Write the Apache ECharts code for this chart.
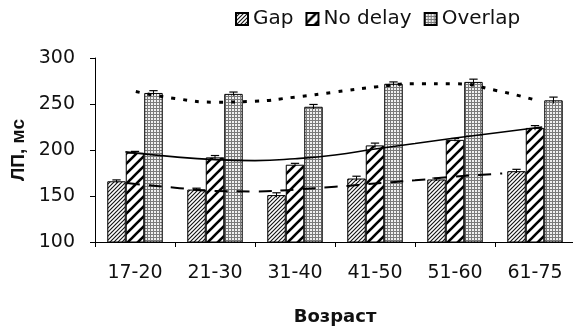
<!DOCTYPE html>
<html>
<head>
<meta charset="utf-8">
<script src="https://cdn.jsdelivr.net/npm/echarts@6/dist/echarts.min.js"></script>
<style>
html,body{margin:0;padding:0;background:#fff;}
#chart{width:573px;height:328px;}
</style>
</head>
<body>
<div id="chart"></div>
<script>
// ---- data ----
var categories = ['17-20', '21-30', '31-40', '41-50', '51-60', '61-75'];
var seriesNames = ['Gap', 'No delay', 'Overlap'];
var gapValues = [166, 157, 151, 169, 168, 177];
var noDelayValues = [197, 192, 184, 205, 211, 224];
var overlapValues = [262, 261, 247, 272, 274, 254];
var gapErr = [1.5, 1.5, 2.5, 2.5, 1.5, 2];
var noDelayErr = [1.5, 2, 1.5, 2.5, 1.5, 2.5];
var overlapErr = [2.5, 2, 2.5, 2, 3, 3.5];
var yTicks = [100, 150, 200, 250, 300];
// trend curves: [category position (1 = first category centre), value]
var trendGap = [[0.9,164],[1.5,159],[2,155.5],[2.5,155],[3,157],[3.5,160],[4,163.5],[4.5,167],[5,171],[5.59,174.5]];
var trendNoDelay = [[0.88,198],[1.5,192.5],[2,189.5],[2.5,188.5],[3,190.5],[3.5,194.5],[4,201],[4.5,207],[5,213],[5.5,218.5],[6.09,225]];
var trendOverlap = [[1.01,263.5],[1.5,256],[2,252],[2.5,253],[3,257.5],[3.5,263],[4,268.5],[4.5,272],[5,272],[5.5,265],[6.02,254]];

// ---- patterns ----
function hatch(size, lw, color, bg) {
  var c = document.createElement('canvas');
  c.width = size; c.height = size;
  var g = c.getContext('2d');
  g.fillStyle = bg; g.fillRect(0, 0, size, size);
  g.strokeStyle = color; g.lineWidth = lw; g.lineCap = 'square';
  for (var k = -1; k <= 1; k++) {
    g.beginPath();
    g.moveTo(k * size, size);
    g.lineTo(k * size + size, 0);
    g.stroke();
  }
  return c;
}
function stipple() {
  var c = document.createElement('canvas');
  c.width = 3; c.height = 3;
  var g = c.getContext('2d');
  g.fillStyle = '#f0f0f0'; g.fillRect(0, 0, 3, 3);
  g.fillStyle = '#7a7a7a';
  g.fillRect(0, 0, 3, 1);
  g.fillRect(0, 0, 1, 3);
  return c;
}
var patGap = { image: hatch(4, 1.1, '#111', '#fff'), repeat: 'repeat' };
var patNoDelay = { image: hatch(10, 2.6, '#000', '#fff'), repeat: 'repeat' };
var patOverlap = { image: stipple(), repeat: 'repeat' };

var BAR_FRAC = 0.231;
function errRenderer(offsetIdx) {
  return function (params, api) {
    var i = api.value(0), v = api.value(1), e = api.value(2);
    var catW = api.size([1, 0])[0];
    var bw = catW * BAR_FRAC;
    var c = api.coord([i, v]);
    var cx = c[0] + offsetIdx * bw;
    var top = api.coord([i, v + e])[1];
    var bot = api.coord([i, v - e])[1];
    var cap = bw * 0.45;
    return {
      type: 'group',
      children: [
        { type: 'line', shape: { x1: cx, y1: top, x2: cx, y2: bot }, style: { stroke: '#000', lineWidth: 1 } },
        { type: 'line', shape: { x1: cx - cap / 2, y1: top, x2: cx + cap / 2, y2: top }, style: { stroke: '#000', lineWidth: 1.2 } }
      ]
    };
  };
}
function errData(vals, errs) {
  return vals.map(function (v, i) { return [i, v, errs[i]]; });
}

var FONT = 'DejaVu Sans';
var chart = echarts.init(document.getElementById('chart'), null, { renderer: 'canvas' });
var barStyle = { borderColor: '#000', borderWidth: 1 };

chart.setOption({
  animation: false,
  backgroundColor: '#fff',
  legend: {
    data: seriesNames,
    left: 230,
    top: 4,
    icon: 'rect',
    itemWidth: 12,
    itemHeight: 12,
    itemGap: 12,
    textStyle: { fontFamily: FONT, fontSize: 20, color: '#111' }
  },
  grid: { left: 95, right: -2, top: 58, bottom: 86, containLabel: false, outerBoundsMode: 'none' },
  xAxis: [
    {
      type: 'category',
      data: categories,
      boundaryGap: true,
      axisLine: { show: true, lineStyle: { color: '#000', width: 1 } },
      axisTick: { show: true, inside: false, length: 5, lineStyle: { color: '#000' } },
      axisLabel: { fontFamily: FONT, fontSize: 19, color: '#111', margin: 22 },
      name: 'Возраст',
      nameLocation: 'middle',
      nameGap: 66,
      nameTextStyle: { fontFamily: FONT, fontSize: 18, fontWeight: 'bold', color: '#111' }
    },
    { type: 'value', min: 0.5, max: 6.5, show: false }
  ],
  yAxis: {
    type: 'value',
    min: yTicks[0],
    max: yTicks[yTicks.length - 1],
    interval: yTicks[1] - yTicks[0],
    axisLine: { show: true, lineStyle: { color: '#000', width: 1 } },
    axisTick: { show: true, length: 5, lineStyle: { color: '#000' } },
    splitLine: { show: false },
    axisLabel: { fontFamily: FONT, fontSize: 19, color: '#111', margin: 20 },
    name: 'ЛП, мс',
    nameLocation: 'middle',
    nameRotate: 90,
    nameGap: 62,
    nameTextStyle: { fontFamily: 'Liberation Sans', fontSize: 19, fontWeight: 'bold', color: '#111' }
  },
  series: [
    { name: seriesNames[0], type: 'bar', data: gapValues, barWidth: (BAR_FRAC * 100) + '%', barGap: '0%', itemStyle: Object.assign({ color: patGap }, barStyle) },
    { name: seriesNames[1], type: 'bar', data: noDelayValues, barWidth: (BAR_FRAC * 100) + '%', barGap: '0%', itemStyle: Object.assign({ color: patNoDelay }, barStyle) },
    { name: seriesNames[2], type: 'bar', data: overlapValues, barWidth: (BAR_FRAC * 100) + '%', barGap: '0%', itemStyle: Object.assign({ color: patOverlap }, barStyle) },
    { type: 'custom', renderItem: errRenderer(-1), data: errData(gapValues, gapErr), z: 5 },
    { type: 'custom', renderItem: errRenderer(0), data: errData(noDelayValues, noDelayErr), z: 5 },
    { type: 'custom', renderItem: errRenderer(1), data: errData(overlapValues, overlapErr), z: 5 },
    { type: 'line', xAxisIndex: 1, data: trendGap, smooth: true, symbol: 'none', z: 6,
      lineStyle: { color: '#000', width: 2, type: [13, 9] } },
    { type: 'line', xAxisIndex: 1, data: trendNoDelay, smooth: true, symbol: 'none', z: 6,
      lineStyle: { color: '#000', width: 1.6, type: 'solid' } },
    { type: 'line', xAxisIndex: 1, data: trendOverlap, smooth: true, symbol: 'none', z: 6,
      lineStyle: { color: '#000', width: 3, type: [4, 8] } }
  ]
});
</script>
</body>
</html>
